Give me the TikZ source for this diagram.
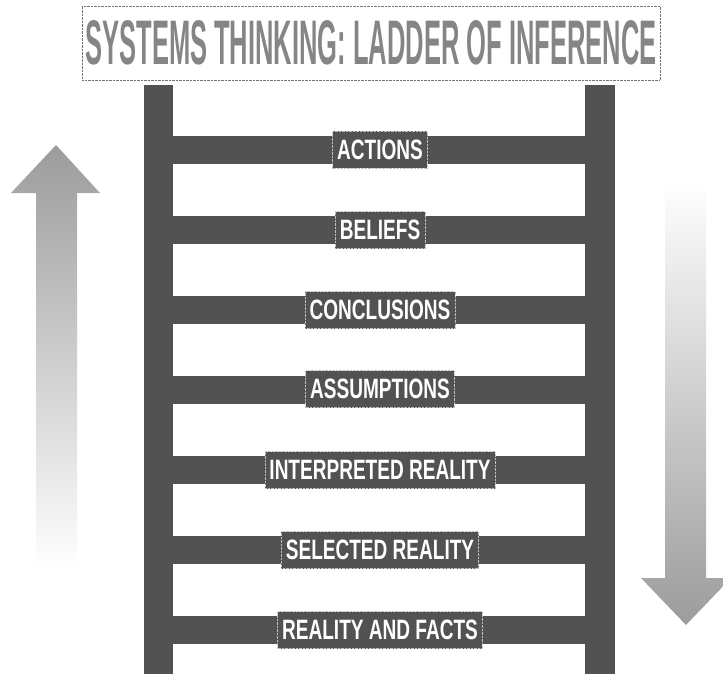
\documentclass[tikz,border=0pt]{standalone}
\usepackage{fontspec}
\newfontfamily\rungfont[FakeStretch=0.68]{Liberation Sans}
\newfontfamily\titlefont[FakeStretch=0.405]{Liberation Sans}
\usetikzlibrary{calc}
\definecolor{raildark}{HTML}{525252}
\definecolor{arrowgray}{HTML}{9C9C9C}
\definecolor{titlegray}{HTML}{858585}
\tikzset{%
    rail/.style={fill=raildark,draw=none},
    rung/.style={fill=raildark,draw=none},
    rungtag/.style={draw=white!75!black,densely dotted,fill=raildark,text=white,inner xsep=4.5pt,minimum height=37pt,font=\rungfont\bfseries\fontsize{28}{28}\selectfont},
    heading/.style={draw=black!55,densely dotted,minimum width=576pt,minimum height=74pt,text=titlegray,font=\titlefont\bfseries\fontsize{63}{63}\selectfont},
    upflow/.style={top color=arrowgray,bottom color=white,draw=none},
    downflow/.style={top color=white,bottom color=arrowgray,draw=none},
}

\begin{document}
\begin{tikzpicture}[x=1pt,y=-1pt]
        \useasboundingbox (0,0) rectangle (723,674);
        \clip (0,0) rectangle (723,674);

        \node [heading] (title) at (371,43) {SYSTEMS THINKING: LADDER OF INFERENCE};

        % rails
        \fill[rail] (144,85) rectangle (173,674);
        \fill[rail] (585,85) rectangle (615,674);

        % rungs
        \fill[rung] (173,136) rectangle (585,164);
        \fill[rung] (173,216) rectangle (585,244);
        \fill[rung] (173,296) rectangle (585,324);
        \fill[rung] (173,376) rectangle (585,404);
        \fill[rung] (173,456) rectangle (585,484);
        \fill[rung] (173,536) rectangle (585,564);
        \fill[rung] (173,616) rectangle (585,644);

        \node [rungtag] (actions) at (380,150) {ACTIONS};
        \node [rungtag] (beliefs) at (380,230) {BELIEFS};
        \node [rungtag] (conclusions) at (380,310) {CONCLUSIONS};
        \node [rungtag] (assumptions) at (380,389) {ASSUMPTIONS};
        \node [rungtag] (interpreted) at (380,470) {INTERPRETED REALITY};
        \node [rungtag] (selected) at (380,550) {SELECTED REALITY};
        \node [rungtag] (facts) at (380,630) {REALITY AND FACTS};

        % arrows
        \shade[upflow] (36,570) -- (36,193) -- (11,193) -- (56,145) -- (100,193) -- (77,193) -- (77,570) -- cycle;
        \shade[downflow] (665,180) -- (665,578) -- (641,578) -- (686,625) -- (731,578) -- (706,578) -- (706,180) -- cycle;
    \end{tikzpicture}
\end{document}
